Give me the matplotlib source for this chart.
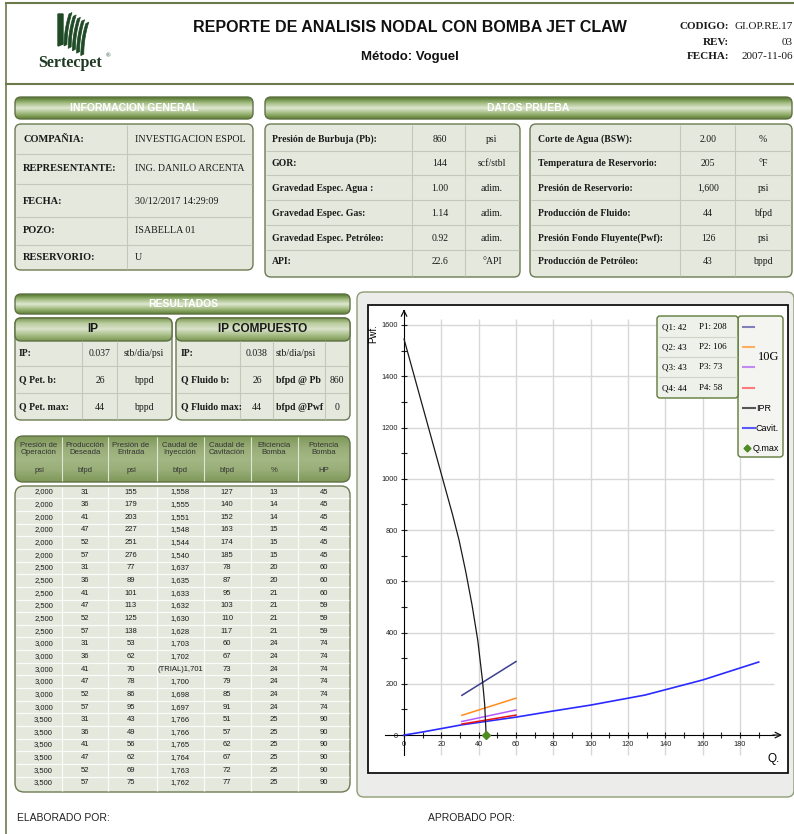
import numpy as np
import matplotlib
matplotlib.use("Agg")
import matplotlib.pyplot as plt
from matplotlib.patches import FancyBboxPatch, Rectangle, Polygon
from matplotlib.colors import LinearSegmentedColormap
from matplotlib import font_manager

# ---------------- data ----------------
info_labels = ["COMPAÑIA:", "REPRESENTANTE:", "FECHA:", "POZO:", "RESERVORIO:"]
info_values = ["INVESTIGACION ESPOL", "ING. DANILO ARCENTA", "30/12/2017 14:29:09", "ISABELLA 01", "U"]

prueba_l_labels = ["Presión de Burbuja (Pb):", "GOR:", "Gravedad Espec. Agua :",
                   "Gravedad Espec. Gas:", "Gravedad Espec. Petróleo:", "API:"]
prueba_l_values = ["860", "144", "1.00", "1.14", "0.92", "22.6"]
prueba_l_units = ["psi", "scf/stbl", "adim.", "adim.", "adim.", "°API"]
prueba_r_labels = ["Corte de Agua (BSW):", "Temperatura de Reservorio:", "Presión de Reservorio:",
                   "Producción de Fluido:", "Presión Fondo Fluyente(Pwf):", "Producción de Petróleo:"]
prueba_r_values = ["2.00", "205", "1,600", "44", "126", "43"]
prueba_r_units = ["%", "°F", "psi", "bfpd", "psi", "bppd"]

ip_labels = ["IP:", "Q Pet. b:", "Q Pet. max:"]
ip_values = ["0.037", "26", "44"]
ip_units = ["stb/dia/psi", "bppd", "bppd"]
ipc_labels = ["IP:", "Q Fluido b:", "Q Fluido max:"]
ipc_values = ["0.038", "26", "44"]
ipc_units = ["stb/dia/psi", "bfpd @ Pb", "bfpd @Pwf"]
ipc_extra = ["", "860", "0"]

pump_titles = ["Presión de\nOperación", "Producción\nDeseada", "Presión de\nEntrada", "Caudal de\nInyección",
               "Caudal de\nCavitación", "Eficiencia\nBomba", "Potencia\nBomba"]
pump_units = ["psi", "bfpd", "psi", "bfpd", "bfpd", "%", "HP"]
p_oper = ["2,000"] * 6 + ["2,500"] * 6 + ["3,000"] * 6 + ["3,500"] * 6
q_deseada = [31, 36, 41, 47, 52, 57] * 4
p_entrada = [155, 179, 203, 227, 251, 276, 77, 89, 101, 113, 125, 138,
             53, 62, 70, 78, 86, 95, 43, 49, 56, 62, 69, 75]
q_inyeccion = ["1,558", "1,555", "1,551", "1,548", "1,544", "1,540", "1,637", "1,635", "1,633", "1,632", "1,630", "1,628",
               "1,703", "1,702", "(TRIAL)1,701", "1,700", "1,698", "1,697", "1,766", "1,766", "1,765", "1,764", "1,763", "1,762"]
q_cavitacion = [127, 140, 152, 163, 174, 185, 78, 87, 95, 103, 110, 117,
                60, 67, 73, 79, 85, 91, 51, 57, 62, 67, 72, 77]
eficiencia = [13, 14, 14, 15, 15, 15, 20, 20, 21, 21, 21, 21,
              24, 24, 24, 24, 24, 24, 25, 25, 25, 25, 25, 25]
potencia = [45, 45, 45, 45, 45, 45, 60, 60, 60, 59, 59, 59,
            74, 74, 74, 74, 74, 74, 90, 90, 90, 90, 90, 90]

# chart
ipr_q = [0, 26, 29.5, 33, 36.5, 39.5, 42, 43.2, 44]
ipr_p = [1545, 860, 760, 640, 505, 370, 215, 120, 0]
cav_q = [0, 10, 31, 60, 80, 100, 129, 160, 190]
cav_p = [0, 12, 40, 70, 94, 117, 156, 215, 285]
pump_q = [31, 60]
pump_p = [[155, 287], [77, 144], [53, 98], [43, 78]]
pump_colors = ["#3d3d8f", "#ff8c1a", "#b25bff", "#ee1111"]
legend_colors = ["#8080b8", "#ffae5e", "#c08af0", "#ff7a7a"]
q_max = 44
leg_q = [42, 43, 43, 44]
leg_p = [208, 106, 73, 58]
x_major = list(range(0, 181, 20))
y_major = list(range(0, 1601, 200))

# ---------------- fonts ----------------
names = {f.name for f in font_manager.fontManager.ttflist}
NARROW = "Liberation Sans Narrow" if "Liberation Sans Narrow" in names else "Liberation Sans"
SERIF = "Liberation Serif"

W, H = 794, 834
fig = plt.figure(figsize=(W / 100, H / 100), dpi=100)
fig.patch.set_facecolor("white")
bg = fig.add_axes([0, 0, 1, 1])
bg.axis("off")

BOX = "#e5e8dd"
EDGE = "#6c7b52"
LINE = "#c4c8bb"


def panel(x0, y0, x1, y1, fc=BOX, ec=EDGE, r=6, lw=1.0, z=1):
    p = FancyBboxPatch((x0, y0), x1 - x0, y1 - y0, boxstyle=f"round,pad=0,rounding_size={r}",
                       fc=fc, ec=ec, lw=lw, zorder=z)
    bg.add_patch(p)
    return p


def grad_bar(x0, y0, x1, y1, colors, r=6):
    p = panel(x0, y0, x1, y1, fc="none", ec="#5f7145", r=r, z=1.6)
    cmap = LinearSegmentedColormap.from_list("g", colors)
    im = bg.imshow(np.linspace(0, 1, 64).reshape(-1, 1), cmap=cmap, extent=(x0, x1, y1, y0),
                   aspect="auto", zorder=1.5, interpolation="bilinear")
    im.set_clip_path(p)


def txt(x, y, s, size, ha="left", family=SERIF, weight="normal", color="#1a1a1a", **kw):
    bg.text(x, y, s, fontsize=size, ha=ha, va="center", family=family, weight=weight,
            color=color, zorder=4, **kw)


HEAD = ["#4f7428", "#9fb97d", "#dfe8d2", "#9fb97d", "#5d7f33"]
SUB = ["#6d8d45", "#b9cb9c", "#d9e3cb", "#a9bf89", "#7a9752"]

# ---------------- page frame & header ----------------
bg.plot([6, 794], [3, 3], color="#6b7a4a", lw=1.5)
bg.plot([6, 6], [3, 834], color="#6b7a4a", lw=1.2)
bg.plot([6, 794], [84, 84], color="#6b7a4a", lw=1.5)

# logo
green = "#1f4a26"
bg.add_patch(Polygon([[58, 14], [63, 14], [63, 44], [58, 46]], closed=True, fc=green, ec=green, zorder=3))
for k in range(5):
    t = np.linspace(0, 1, 20)
    x_in = 64 + k * 4.2 + 5 * t ** 2
    y_in = 46 - 32 * t + k * 2.4
    x_out = x_in + 3.0
    pts = np.column_stack([np.r_[x_in, x_out[::-1]], np.r_[y_in, y_in[::-1] - 1.5]])
    bg.add_patch(Polygon(pts, closed=True, fc=green, ec=green, lw=0.5, zorder=3))
txt(70, 63, "Sertecpet", 11.5, ha="center", weight="bold", color="#1e3a22")
txt(106, 56, "®", 4.5, ha="left", color="#1e3a22")

txt(410, 27, "REPORTE DE ANALISIS NODAL CON BOMBA JET CLAW", 11.5, ha="center",
    family=NARROW, weight="bold", color="#111")
txt(410, 57, "Método: Voguel", 9.5, ha="center", family=NARROW, weight="bold", color="#111")
for yy, lab, val in [(26, "CODIGO:", "GI.OP.RE.17"), (42, "REV:", "03"), (56, "FECHA:", "2007-11-06")]:
    txt(729, yy, lab, 8, ha="right", weight="bold")
    txt(793, yy, val, 8, ha="right")

# ---------------- informacion general ----------------
grad_bar(15, 97, 253, 119, HEAD)
txt(134, 108, "INFORMACION GENERAL", 7.5, ha="center", family=NARROW, weight="bold", color="white")
panel(15, 124, 253, 270)
info_y = [139, 168, 201, 230, 257]
bg.hlines([154, 184, 217, 245], 16, 252, color=LINE, lw=0.8, zorder=2)
bg.vlines([127], 125, 269, color=LINE, lw=0.8, zorder=2)
for yy, lab, val in zip(info_y, info_labels, info_values):
    txt(23, yy, lab, 7.5, weight="bold")
    txt(135, yy, val, 7.2)

# ---------------- datos prueba ----------------
grad_bar(265, 97, 792, 119, HEAD)
txt(528, 108, "DATOS PRUEBA", 7.5, ha="center", family=NARROW, weight="bold", color="white")
prueba_y = [139, 163, 188, 213, 238, 262]
panel(265, 124, 520, 277)
panel(530, 124, 792, 277)
seps = [151, 175, 200, 225, 250]
bg.hlines(seps, 266, 519, color=LINE, lw=0.8, zorder=2)
bg.hlines(seps, 531, 791, color=LINE, lw=0.8, zorder=2)
bg.vlines([412, 465, 680, 735], 125, 276, color=LINE, lw=0.8, zorder=2)
for yy, a, b, c, d, e, f in zip(prueba_y, prueba_l_labels, prueba_l_values, prueba_l_units,
                                prueba_r_labels, prueba_r_values, prueba_r_units):
    txt(272, yy, a, 7, weight="bold")
    txt(440, yy, b, 7, ha="center")
    txt(492, yy, c, 7, ha="center")
    txt(538, yy, d, 7, weight="bold")
    txt(708, yy, e, 7, ha="center")
    txt(763, yy, f, 7, ha="center")

# ---------------- resultados ----------------
grad_bar(15, 294, 350, 314, HEAD)
txt(183, 304, "RESULTADOS", 7.5, ha="center", family=NARROW, weight="bold", color="white")
res_y = [353, 380, 407]
panel(15, 318, 172, 420)
panel(176, 318, 350, 420)
grad_bar(15, 318, 172, 341, SUB)
grad_bar(176, 318, 350, 341, SUB)
txt(93, 329, "IP", 8.5, ha="center", family=NARROW, weight="bold", color="#1a1a1a")
txt(263, 329, "IP COMPUESTO", 8.5, ha="center", family=NARROW, weight="bold", color="#1a1a1a")
bg.hlines([366, 393], 16, 171, color=LINE, lw=0.8, zorder=2)
bg.hlines([366, 393], 177, 349, color=LINE, lw=0.8, zorder=2)
bg.vlines([82, 117, 240, 273, 325], 341, 419, color=LINE, lw=0.8, zorder=2)
for yy, a, b, c in zip(res_y, ip_labels, ip_values, ip_units):
    txt(19, yy, a, 7, weight="bold")
    txt(100, yy, b, 7, ha="center")
    txt(144, yy, c, 7, ha="center")
for yy, a, b, c, d in zip(res_y, ipc_labels, ipc_values, ipc_units, ipc_extra):
    txt(181, yy, a, 7, weight="bold")
    txt(257, yy, b, 7, ha="center")
    txt(276, yy, c, 7, weight="bold" if "@" in c else "normal")
    txt(337, yy, d, 7, ha="center")

# ---------------- pump table ----------------
col_edges = [62, 108, 157, 204, 251, 298]
col_x = [39, 85, 131, 180, 227, 274, 324]
grad_bar(15, 436, 350, 482, ["#7f9858", "#98ad77", "#a3b784", "#98ad77", "#7f9858"], r=8)
bg.vlines(col_edges, 437, 481, color="#dfe6d3", lw=0.8, zorder=2)
for x, t, u in zip(col_x, pump_titles, pump_units):
    txt(x, 449, t, 5.6, ha="center", family=NARROW, color="#333", linespacing=1.15)
    txt(x, 470, u, 5.6, ha="center", family=NARROW, color="#333")
panel(15, 486, 350, 792, r=9)
row_y = [492 + 12.65 * i for i in range(len(p_oper))]
bg.hlines([y + 6.3 for y in row_y[:-1]], 16, 349, color="#fbfcf8", lw=0.9, zorder=2)
bg.vlines(col_edges, 487, 791, color="#fbfcf8", lw=0.9, zorder=2)
for i, yy in enumerate(row_y):
    txt(53, yy, p_oper[i], 5.5, ha="right", family=NARROW)
    txt(col_x[1], yy, str(q_deseada[i]), 5.5, ha="center", family=NARROW)
    txt(col_x[2], yy, str(p_entrada[i]), 5.5, ha="center", family=NARROW)
    txt(col_x[3], yy, q_inyeccion[i], 5.5, ha="center", family=NARROW)
    txt(col_x[4], yy, str(q_cavitacion[i]), 5.5, ha="center", family=NARROW)
    txt(col_x[5], yy, str(eficiencia[i]), 5.5, ha="center", family=NARROW)
    txt(col_x[6], yy, str(potencia[i]), 5.5, ha="center", family=NARROW)

# ---------------- chart panel ----------------
panel(357, 292, 794, 797, fc="#ecedea", ec="#8e9c76", r=7)
txt(17, 818, "ELABORADO POR:", 7.5, family=NARROW, color="#222")
txt(428, 818, "APROBADO POR:", 7.5, family=NARROW, color="#222")

bg.set_xlim(0, W)
bg.set_ylim(H, 0)

ax = fig.add_axes([368 / W, 1 - 773 / H, 420 / W, 468 / H])
ax.set_facecolor("white")
ax.set_xlim(-19.3, 205.7)
ax.set_ylim(-148, 1678)
for s in ["top", "right"]:
    ax.spines[s].set_visible(False)
ax.spines["left"].set_position(("data", 0))
ax.spines["bottom"].set_position(("data", 0))
ax.spines["left"].set_bounds(-78, 1660)
ax.spines["bottom"].set_bounds(-10, 198)
ax.add_patch(Rectangle((0, 0), 1, 1, transform=ax.transAxes, fill=False, ec="#111", lw=1.3, clip_on=False))
ax.annotate("", xy=(0, 1672), xytext=(0, 1640), arrowprops=dict(arrowstyle="->", lw=0.9, color="#111"))
ax.annotate("", xy=(204, 0), xytext=(196, 0), arrowprops=dict(arrowstyle="->", lw=0.9, color="#111"))

ax.set_xticks(x_major)
ax.set_yticks(y_major)
ax.set_xticks(range(10, 200, 20), minor=True)
ax.set_yticks(range(100, 1601, 200), minor=True)
ax.tick_params(which="both", direction="inout", length=5, width=0.8, labelsize=5.3, pad=2, colors="#222")
ax.tick_params(which="minor", length=4)
for lab in ax.get_xticklabels() + ax.get_yticklabels():
    lab.set_family(NARROW)

ax.vlines(x_major[1:], -78, 1625, color="#d8d8d8", lw=1, zorder=0)
ax.hlines(y_major[1:], 0, 198, color="#d8d8d8", lw=1, zorder=0)

ax.plot(cav_q, cav_p, color="#2a2aff", lw=1.2, zorder=3)
for pp, c in zip(pump_p, pump_colors):
    ax.plot(pump_q, pp, color=c, lw=1.1, zorder=3)
ax.plot(ipr_q, ipr_p, color="#1a1a1a", lw=0.9, zorder=4)
ax.plot([q_max], [0], marker="D", ms=4.5, color="#4f8a22", zorder=5, clip_on=False)

ax.text(-16.5, 1565, "Pwf.", rotation=90, fontsize=7, family=NARROW, ha="center", va="center")
ax.text(198, -95, "Q.", fontsize=8.5, family=NARROW, ha="center", va="center")

# ---------------- legend ----------------
ov = fig.add_axes([0, 0, 1, 1], zorder=10)
ov.axis("off")
ov.patch.set_alpha(0)
ov.set_xlim(0, W)
ov.set_ylim(H, 0)
ov.add_patch(FancyBboxPatch((738, 316), 45, 141, boxstyle="round,pad=0,rounding_size=3",
                            fc="#f4f5f1", ec="#5f7a3a", lw=1))
ov.add_patch(FancyBboxPatch((657, 316), 81, 82, boxstyle="round,pad=0,rounding_size=3",
                            fc="#eef0ea", ec="#5f7a3a", lw=1))
ov.hlines([337, 357, 377], 658, 737, color="#cfd3c8", lw=0.8)
leg_y = [327, 347, 367, 388]
for i, yy in enumerate(leg_y):
    ov.text(662, yy, f"Q{i + 1}: {leg_q[i]}", fontsize=6.5, family=SERIF, va="center")
    ov.text(699, yy, f"P{i + 1}: {leg_p[i]}", fontsize=6.5, family=SERIF, va="center")
    ov.plot([743, 754], [yy, yy], color=legend_colors[i], lw=1.5)
ov.text(758, 357, "10G", fontsize=9, family=SERIF, va="center")
ov.plot([743, 755], [408, 408], color="#555", lw=1.5)
ov.text(756, 408, "IPR", fontsize=6.5, family=NARROW, va="center")
ov.plot([743, 755], [428, 428], color="#5a5aff", lw=1.5)
ov.text(755, 428, "Cavit.", fontsize=6.5, family=NARROW, va="center")
ov.plot([747], [448], marker="D", ms=3.5, color="#4f8a22")
ov.text(753, 448, "Q.max", fontsize=6.5, family=NARROW, va="center")

fig.savefig("out.png", dpi=100)
